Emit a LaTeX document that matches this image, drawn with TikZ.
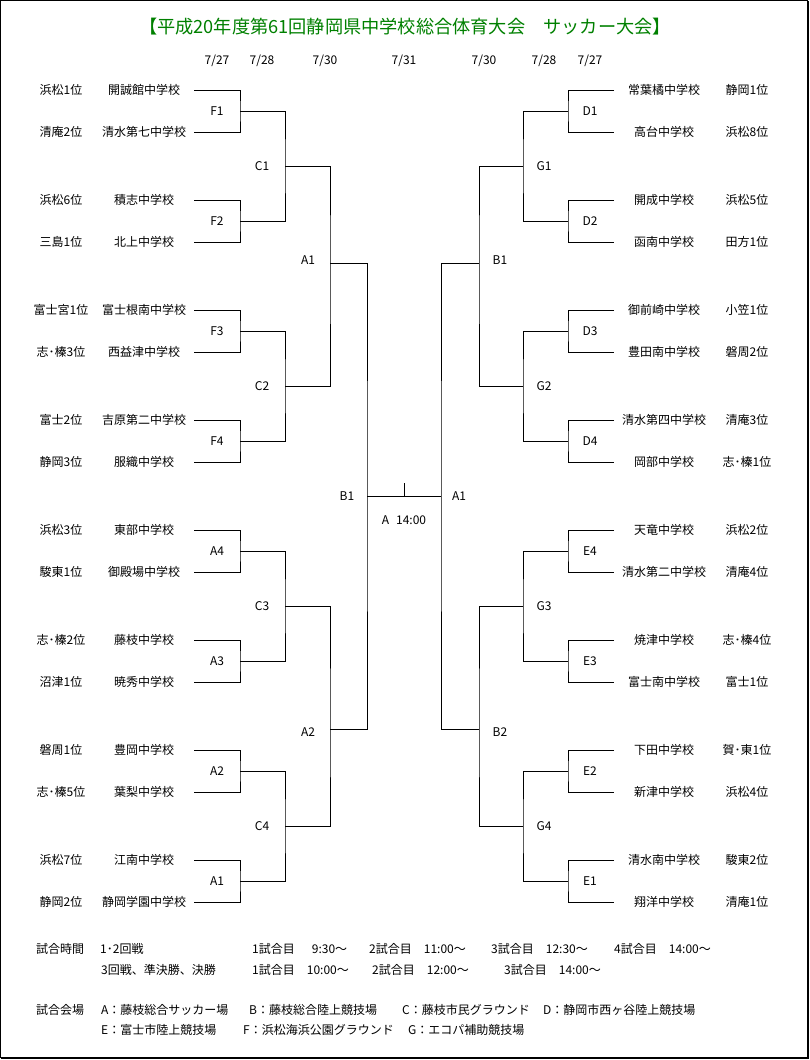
\documentclass[tikz,border=0pt]{standalone}
\usepackage{fontspec}
\setmainfont{Noto Sans CJK JP}
\definecolor{titlegreen}{RGB}{0,128,0}
\begin{document}
\begin{tikzpicture}[x=1pt,y=-1pt,
  lbl/.style={inner sep=0pt, font=\fontsize{12}{14}\selectfont},
  note/.style={inner sep=0pt, anchor=west, font=\fontsize{12}{14}\selectfont},
  ln/.style={line width=1pt, black}]
\useasboundingbox (0,0) rectangle (810,1060);
\draw[line width=1pt] (0.5,0.5) rectangle (807.5,1057.5);
\draw[line width=2pt] (807.5,0.5) -- (807.5,1057.5) -- (0.5,1057.5);
% title
\node[inner sep=0pt, font=\fontsize{18.2}{20}\selectfont, text=titlegreen] (title) at (405,27) {【平成20年度第61回静岡県中学校総合体育大会　サッカー大会】};
% dates
\foreach \x/\d [count=\i] in {217/7\slash27,262/7\slash28,325/7\slash30,404/7\slash31,484/7\slash30,544/7\slash28,590/7\slash27}{
  \node[lbl] (date\i) at (\x,61) {\d};
}
% left teams
\foreach \y/\rk/\sc [count=\i] in {90/浜松1位/開誠館中学校,132/清庵2位/清水第七中学校,200/浜松6位/積志中学校,242/三島1位/北上中学校,310/富士宮1位/富士根南中学校,352/志･榛3位/西益津中学校,420/富士2位/吉原第二中学校,462/静岡3位/服織中学校,530/浜松3位/東部中学校,572/駿東1位/御殿場中学校,640/志･榛2位/藤枝中学校,682/沼津1位/暁秀中学校,750/磐周1位/豊岡中学校,792/志･榛5位/葉梨中学校,860/浜松7位/江南中学校,902/静岡2位/静岡学園中学校}{
  \node[lbl] (lr\i) at (61,\y) {\rk};
  \node[lbl] (ls\i) at (144,\y) {\sc};
  \coordinate (lt\i) at (194,\y);
}
% right teams
\foreach \y/\rk/\sc [count=\i] in {90/静岡1位/常葉橘中学校,132/浜松8位/高台中学校,200/浜松5位/開成中学校,242/田方1位/函南中学校,310/小笠1位/御前崎中学校,352/磐周2位/豊田南中学校,420/清庵3位/清水第四中学校,462/志･榛1位/岡部中学校,530/浜松2位/天竜中学校,572/清庵4位/清水第二中学校,640/志･榛4位/焼津中学校,682/富士1位/富士南中学校,750/賀･東1位/下田中学校,792/浜松4位/新津中学校,860/駿東2位/清水南中学校,902/清庵1位/翔洋中学校}{
  \node[lbl] (rr\i) at (747,\y) {\rk};
  \node[lbl] (rs\i) at (664,\y) {\sc};
  \coordinate (rt\i) at (614,\y);
}
% first round
\foreach \j/\nl/\nr in {1/F1/D1,2/F2/D2,3/F3/D3,4/F4/D4,5/A4/E4,6/A3/E3,7/A2/E2,8/A1/E1}{
  \pgfmathtruncatemacro\a{2*\j-1}
  \pgfmathtruncatemacro\b{2*\j}
  \pgfmathsetmacro\ym{111+(\j-1)*110}
  \coordinate (lf\j) at (240,\ym);
  \coordinate (rf\j) at (568,\ym);
  \draw[ln] (lt\a) -| (lf\j) |- (lt\b);
  \draw[ln] (rt\a) -| (rf\j) |- (rt\b);
  \node[lbl] (lfn\j) at (217,\ym) {\nl};
  \node[lbl] (rfn\j) at (590,\ym) {\nr};
}
% second round
\foreach \k/\nl/\nr in {1/C1/G1,2/C2/G2,3/C3/G3,4/C4/G4}{
  \pgfmathtruncatemacro\a{2*\k-1}
  \pgfmathtruncatemacro\b{2*\k}
  \pgfmathsetmacro\ym{166+(\k-1)*220}
  \coordinate (lc\k) at (285,\ym);
  \coordinate (rc\k) at (523,\ym);
  \draw[ln] (lf\a) -| (lc\k) |- (lf\b);
  \draw[ln] (rf\a) -| (rc\k) |- (rf\b);
  \node[lbl] (lcn\k) at (262,\ym) {\nl};
  \node[lbl] (rcn\k) at (544,\ym) {\nr};
}
% semifinals
\coordinate (la1) at (330,263);
\coordinate (la2) at (330,729);
\coordinate (ra1) at (479,263);
\coordinate (ra2) at (479,729);
\draw[ln] (lc1) -| (la1) |- (lc2);
\draw[ln] (lc3) -| (la2) |- (lc4);
\draw[ln] (rc1) -| (ra1) |- (rc2);
\draw[ln] (rc3) -| (ra2) |- (rc4);
\node[lbl] (lan1) at (308,260) {A1};
\node[lbl] (lan2) at (308,732) {A2};
\node[lbl] (ran1) at (500,260) {B1};
\node[lbl] (ran2) at (500,732) {B2};
% final
\coordinate (cl) at (367,496);
\coordinate (cr) at (441,496);
\coordinate (tk) at (404,483);
\draw[ln] (la1) -| (cl) |- (la2);
\draw[ln] (ra1) -| (cr) |- (ra2);
\draw[ln] (cl) -- (cr);
\draw[ln] (tk) -- (tk |- cl);
\node[lbl] (fnl) at (347,496) {B1};
\node[lbl] (fnr) at (459,496) {A1};
\node[lbl] (fin) at (404,520) {A\hspace{7pt}14:00};
% notes
\node[note] (n1) at (36,949) {試合時間};
\node[note] (n2) at (100,949) {1･2回戦};
\node[note] (n3) at (252,949) {1試合目\hspace{17pt}9:30～};
\node[note] (n4) at (369,949) {2試合目\hspace{12pt}11:00～};
\node[note] (n5) at (491,949) {3試合目\hspace{12pt}12:30～};
\node[note] (n6) at (614,949) {4試合目\hspace{12pt}14:00～};
\node[note] (n7) at (101,970) {3回戦、準決勝、決勝};
\node[note] (n8) at (252,970) {1試合目\hspace{12pt}10:00～};
\node[note] (n9) at (372,970) {2試合目\hspace{12pt}12:00～};
\node[note] (n10) at (504,970) {3試合目\hspace{12pt}14:00～};
\node[note] (v0) at (36,1010) {試合会場};
\node[note] (v1) at (101,1010) {A：藤枝総合サッカー場};
\node[note] (v2) at (249,1010) {B：藤枝総合陸上競技場};
\node[note] (v3) at (402,1010) {C：藤枝市民グラウンド};
\node[note] (v4) at (543,1010) {D：静岡市西ヶ谷陸上競技場};
\node[note] (v5) at (101,1030) {E：富士市陸上競技場};
\node[note] (v6) at (243,1030) {F：浜松海浜公園グラウンド};
\node[note] (v7) at (408,1030) {G：エコパ補助競技場};
\end{tikzpicture}
\end{document}
